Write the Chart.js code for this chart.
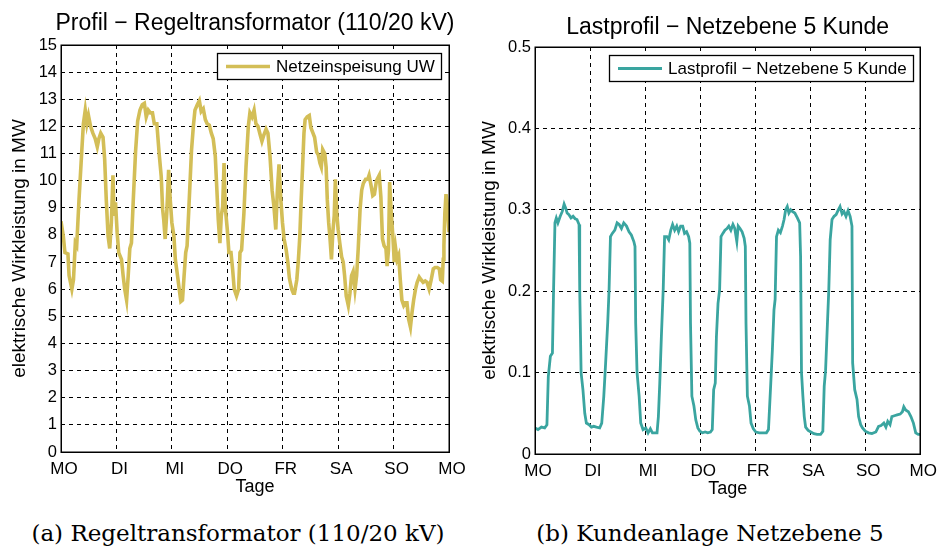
<!DOCTYPE html>
<html>
<head>
<meta charset="utf-8">
<script src="https://cdn.jsdelivr.net/npm/chart.js@4/dist/chart.umd.min.js"></script>
<style>
  body { margin: 0; background: #fff; width: 941px; height: 547px; position: relative; overflow: hidden; }
  canvas { position: absolute; top: 0; }
  #trafo { left: 0; }
  #kunde { left: 470px; }
  .cap {
    position: absolute; top: 522px; white-space: nowrap;
    font-family: "DejaVu Serif", serif; font-size: 23px; line-height: 23px;
    transform: translateX(-50%); color: #000;
  }
</style>
</head>
<body>
<canvas id="trafo" width="470" height="505"></canvas>
<canvas id="kunde" width="471" height="507"></canvas>
<div class="cap" style="left:238px">(a) Regeltransformator (110/20 kV)</div>
<div class="cap" style="left:710px">(b) Kundeanlage Netzebene 5</div>

<script>
// Wochentage an den x-Ticks (alle 24 h)
const dayLabels = ['MO', 'DI', 'MI', 'DO', 'FR', 'SA', 'SO', 'MO'];

// Profil Regeltransformator: Stunde der Woche / MW
const trafoHours = [0, 1, 1.7, 3, 3.5, 4.7, 5.4, 6.2, 6.8, 7.8, 9, 9.7, 10.5, 11.2, 11.9, 12.8, 13.8, 14.8, 15.7, 16.4,
  17.2, 18.2, 18.9, 19.6, 20.4, 21.1, 21.8, 22.5, 23, 23.6, 24.3, 25, 26.2, 26.9, 27.6, 28.4, 29.1, 29.8, 30.5, 31.3,
  32.3, 33.2, 34.2, 35.2, 36.1, 36.9, 37.8, 38.7, 39.6, 40.4, 41.5, 42.5, 43.4, 44, 44.5, 45.1, 45.8, 46.6, 47.3, 48,
  48.9, 49.5, 50.6, 51.2, 51.9, 52.6, 53.3, 54, 54.6, 55.4, 56.5, 57.3, 58, 59, 59.9, 60.7, 61.6, 62.5, 63.3, 64.2,
  65.1, 65.9, 66.8, 67.5, 68.1, 68.8, 69.4, 70, 70.6, 71.1, 72, 72.7, 73.6, 74.3, 75, 76, 76.9, 77.5, 78.2, 79.2,
  80.1, 81.1, 81.8, 82.7, 83.6, 84.4, 85.3, 86.2, 87, 87.9, 88.8, 89.6, 90.5, 91.4, 92.2, 93, 93.7, 94.4, 95.1, 95.9,
  96.6, 97.5, 98.2, 98.9, 99.9, 100.6, 101.1, 102.1, 102.8, 103.4, 104, 104.6, 105.2, 105.7, 106.6, 107.5, 108.2, 108.9, 109.8, 110.7,
  111.4, 112.1, 112.7, 113.3, 114.2, 114.8, 115.3, 115.9, 116.5, 117.1, 117.7, 118.3, 118.8, 119.4, 120, 120.7, 121.5, 122.2, 122.8, 123.5,
  124.4, 125.1, 125.8, 126.5, 127.3, 128, 128.7, 129.5, 130.2, 130.9, 131.9, 132.8, 133.4, 134.3, 135, 135.7, 136.6, 137.8, 138.5, 139.2,
  139.9, 140.7, 141.2, 141.8, 142.3, 143, 143.7, 144.3, 144.9, 145.5, 146.2, 146.9, 147.6, 148.4, 149.1, 149.8, 150.5, 151.3, 152, 152.7,
  153.5, 154.2, 155.1, 155.9, 156.8, 157.7, 158.5, 159.4, 160.3, 161.2, 162, 162.9, 163.8, 164.4, 165.1, 165.5, 165.8, 166.2, 166.7, 167.3, 168];
const trafoMW = [8.5, 7.95, 7.35, 7.3, 6.5, 6.0, 6.35, 7.7, 7.6, 9.3, 11.1, 12.1, 12.6, 12.1, 12.4, 12.0, 11.75, 11.55, 11.25, 11.55,
  11.75, 11.6, 10.8, 9.3, 7.95, 7.5, 8.45, 10.2, 8.7, 9.2, 8.1, 7.35, 7.1, 6.5, 6.0, 5.6, 6.5, 7.5, 7.7, 9.3,
  11.1, 12.2, 12.6, 12.8, 12.85, 12.35, 12.6, 12.5, 12.5, 12.1, 12.1, 11.0, 10.15, 8.95, 8.55, 7.85, 8.8, 10.4, 9.3, 8.45,
  7.95, 7.1, 6.4, 6.0, 5.55, 5.6, 6.5, 7.35, 7.6, 9.05, 11.1, 12.0, 12.6, 12.8, 12.95, 12.55, 12.65, 12.25, 12.1, 12.05,
  11.75, 11.55, 10.9, 9.65, 8.55, 7.7, 8.7, 9.05, 10.65, 9.05, 8.2, 7.35, 7.35, 6.75, 6.0, 5.75, 6.0, 7.35, 7.45, 8.8,
  10.5, 12.0, 12.5, 12.35, 12.6, 12.1, 12.0, 11.7, 11.45, 11.7, 11.9, 11.75, 10.9, 9.65, 9.05, 8.2, 9.65, 10.6, 9.4, 8.45,
  7.85, 7.45, 7.0, 6.4, 6.0, 5.85, 5.85, 6.35, 7.1, 7.95, 9.3, 10.5, 11.75, 12.25, 12.35, 12.4, 11.95, 11.8, 11.6, 11.05,
  10.95, 10.65, 10.5, 11.15, 11.0, 10.5, 9.3, 8.45, 7.85, 7.1, 8.1, 8.7, 10.05, 8.8, 8.2, 7.7, 7.2, 7.0, 6.5, 5.75,
  5.4, 5.85, 6.5, 6.65, 6.0, 6.5, 7.5, 8.95, 9.65, 9.9, 10.05, 10.05, 10.2, 9.8, 9.45, 9.5, 10.0, 10.2, 9.4, 7.85,
  7.6, 7.5, 6.85, 7.45, 9.95, 8.8, 7.95, 7.0, 7.5, 7.1, 7.25, 6.35, 5.6, 5.4, 5.5, 5.5, 4.9, 4.6, 5.15, 5.6,
  6.0, 6.25, 6.45, 6.35, 6.25, 6.3, 6.25, 6.0, 6.35, 6.75, 6.8, 6.8, 6.75, 6.35, 6.3, 7.1, 7.6, 8.8, 9.5, 9.1, 8.1];

// Lastprofil Kunde Netzebene 5: Stunde der Woche / MW
const kundeHours = [0, 1.3, 2.8, 4.2, 5.2, 5.8, 6.7, 7.6, 8.1, 8.7, 9.3, 10, 11, 11.9, 12.7, 13.4, 14, 14.8, 15.7, 16.6,
  17.5, 18.3, 19.2, 19.5, 20.1, 20.9, 21.7, 22.4, 23.6, 24.6, 25.6, 26.8, 28.2, 29.1, 30, 30.8, 31.7, 32.3, 32.9, 33.7,
  34.8, 35.8, 36.7, 37.7, 38.7, 39.9, 41, 42, 43.1, 43.6, 43.9, 44.5, 45.4, 46.1, 47.1, 48.3, 49.3, 50.3, 51.2, 52.2,
  53.2, 53.8, 54.4, 55.1, 55.9, 56.5, 57.5, 58.3, 59.2, 60, 60.9, 61.8, 62.6, 63.5, 64.4, 65.2, 66.1, 67, 67.5, 67.8,
  68.4, 69.3, 70.1, 71, 71.9, 73, 74.2, 75.3, 76.5, 77.3, 77.9, 78.6, 79.1, 79.8, 80.5, 81.1, 81.9, 82.8, 83.7, 84.5,
  85.4, 86.3, 87.1, 88, 88.6, 89.4, 90.3, 91.2, 91.7, 92, 92.6, 93.5, 94.2, 95.2, 96.3, 97.8, 99.2, 100.9, 101.8, 102.8,
  103.5, 104.2, 104.7, 105.3, 106.1, 107, 107.9, 108.6, 109.3, 110, 110.7, 111.5, 112.2, 113.3, 114.4, 115.4, 115.8, 116.2, 116.8, 117.4,
  118, 119.1, 120.3, 121.6, 123, 124.5, 125.5, 126.1, 126.7, 127.4, 128.1, 128.7, 129.5, 130.4, 131.3, 132.1, 133, 133.9, 134.7, 135.6,
  136.5, 137.4, 138.2, 138.5, 139.4, 140.4, 141.1, 142, 142.8, 144, 145.4, 146.9, 148.6, 149.8, 150.9, 152.1, 153, 153.8, 154.8, 155.6,
  156.7, 157.9, 159.2, 160.2, 160.8, 161.6, 162.8, 163.9, 165, 166, 167.1, 168];
const kundeMW = [0.032, 0.030, 0.033, 0.032, 0.036, 0.095, 0.12, 0.124, 0.202, 0.284, 0.29, 0.284, 0.292, 0.298, 0.307, 0.302, 0.296, 0.294, 0.29, 0.292,
  0.289, 0.288, 0.282, 0.202, 0.1, 0.079, 0.05, 0.038, 0.036, 0.033, 0.034, 0.033, 0.032, 0.038, 0.071, 0.112, 0.161, 0.202, 0.267, 0.271,
  0.275, 0.284, 0.282, 0.277, 0.284, 0.28, 0.273, 0.269, 0.261, 0.255, 0.161, 0.1, 0.071, 0.038, 0.030, 0.032, 0.026, 0.031, 0.026, 0.026,
  0.026, 0.046, 0.087, 0.144, 0.202, 0.267, 0.267, 0.263, 0.275, 0.282, 0.275, 0.28, 0.273, 0.28, 0.28, 0.271, 0.273, 0.267, 0.259, 0.161,
  0.071, 0.059, 0.042, 0.032, 0.028, 0.026, 0.027, 0.026, 0.027, 0.030, 0.079, 0.087, 0.144, 0.185, 0.202, 0.267, 0.271, 0.275, 0.277, 0.28,
  0.275, 0.282, 0.277, 0.261, 0.28, 0.277, 0.273, 0.265, 0.255, 0.161, 0.071, 0.059, 0.038, 0.031, 0.027, 0.026, 0.026, 0.026, 0.03, 0.087,
  0.128, 0.177, 0.19, 0.267, 0.275, 0.272, 0.28, 0.288, 0.3, 0.304, 0.296, 0.3, 0.298, 0.296, 0.29, 0.284, 0.243, 0.1, 0.071, 0.046,
  0.033, 0.029, 0.027, 0.025, 0.024, 0.024, 0.028, 0.083, 0.103, 0.153, 0.202, 0.263, 0.288, 0.292, 0.294, 0.299, 0.304, 0.295, 0.298, 0.292,
  0.299, 0.292, 0.28, 0.112, 0.079, 0.067, 0.046, 0.036, 0.032, 0.028, 0.026, 0.025, 0.027, 0.034, 0.035, 0.038, 0.033, 0.04, 0.036, 0.046,
  0.047, 0.048, 0.049, 0.052, 0.058, 0.054, 0.052, 0.046, 0.038, 0.026, 0.024, 0.024];

Chart.defaults.font.family = '"Liberation Sans", Arial, sans-serif';
Chart.defaults.color = '#000';

// schwarzer Rahmen um die Achsenfläche (box on)
const frame = {
  id: 'frame',
  afterDatasetsDraw(chart) {
    const { ctx, chartArea: a } = chart;
    ctx.save();
    ctx.strokeStyle = '#000';
    ctx.lineWidth = 1.5;
    ctx.strokeRect(Math.round(a.left) + 0.25, Math.round(a.top) + 0.25, Math.round(a.right - a.left), Math.round(a.bottom - a.top));
    ctx.restore();
  }
};

// Titel mittig über der Achsenfläche
const axesTitle = {
  id: 'axesTitle',
  afterDraw(chart, args, opts) {
    const { ctx, chartArea } = chart;
    ctx.save();
    ctx.font = '23px "Liberation Sans", Arial, sans-serif';
    ctx.fillStyle = '#000';
    ctx.textAlign = 'center';
    ctx.textBaseline = 'alphabetic';
    ctx.fillText(opts.text, (chartArea.left + chartArea.right) / 2, opts.baseline);
    ctx.restore();
  }
};

// Legende mit Kasten oben rechts in der Achsenfläche
const boxLegend = {
  id: 'boxLegend',
  afterDraw(chart, args, opts) {
    const { ctx, chartArea } = chart;
    const ds = chart.data.datasets[0];
    ctx.save();
    ctx.font = '17px "Liberation Sans", Arial, sans-serif';
    const tw = ctx.measureText(ds.label).width;
    const w = Math.round(9 + 44 + 6 + tw + 6), h = 26;
    const x = Math.round(chartArea.right - opts.right - w), y = Math.round(chartArea.top + opts.top);
    ctx.fillStyle = '#fff';
    ctx.fillRect(x, y, w, h);
    ctx.strokeStyle = '#000';
    ctx.lineWidth = 1.3;
    ctx.strokeRect(x + 0.5, y + 0.5, w, h);
    ctx.strokeStyle = ds.borderColor;
    ctx.lineWidth = ds.borderWidth;
    ctx.beginPath();
    ctx.moveTo(x + 9, y + h / 2 + 0.5);
    ctx.lineTo(x + 53, y + h / 2 + 0.5);
    ctx.stroke();
    ctx.fillStyle = '#000';
    ctx.textBaseline = 'middle';
    ctx.fillText(ds.label, x + 59, y + h / 2 + 1.5);
    ctx.restore();
  }
};

function buildChart(id, o) {
  return new Chart(document.getElementById(id), {
    type: 'line',
    data: {
      datasets: [{
        label: o.label,
        data: o.hours.map((h, i) => ({ x: h, y: o.values[i] })),
        borderColor: o.color,
        borderWidth: o.lineWidth,
        pointRadius: 0,
        tension: 0,
        fill: false
      }]
    },
    options: {
      responsive: false,
      animation: false,
      events: [],
      layout: { padding: { left: 0, right: o.padRight, top: o.padTop, bottom: 0 } },
      plugins: {
        legend: { display: false },
        tooltip: { enabled: false },
        title: { display: false },
        axesTitle: { text: o.title, baseline: o.titleBaseline },
        boxLegend: { right: o.legendRight, top: 8 }
      },
      scales: {
        x: {
          type: 'linear',
          min: 0,
          max: 168,
          afterFit: s => { s.height = o.xHeight; },
          ticks: {
            stepSize: 24,
            autoSkip: false,
            maxRotation: 0,
            padding: 7,
            labelOffset: 3,
            color: '#000',
            font: { size: 17 },
            callback: v => dayLabels[v / 24]
          },
          grid: { color: '#000', lineWidth: 1, drawTicks: false },
          border: { display: false, dash: [4, 4] },
          title: {
            display: true,
            text: 'Tage',
            color: '#000',
            font: { size: 18 },
            padding: { top: 0, bottom: o.xTitleBottom }
          }
        },
        y: {
          min: 0,
          max: o.yMax,
          afterFit: s => { s.width = o.yWidth; },
          ticks: { stepSize: o.yStep, padding: 4, color: '#000', font: { size: 16.5 } },
          grid: { color: '#000', lineWidth: 1, drawTicks: false },
          border: { display: false, dash: [4, 4] },
          title: {
            display: true,
            text: 'elektrische Wirkleistung in MW',
            color: '#000',
            font: { size: 19 },
            padding: { top: 8, bottom: 0 }
          }
        }
      }
    },
    plugins: [frame, axesTitle, boxLegend]
  });
}

buildChart('trafo', {
  label: 'Netzeinspeisung UW',
  title: 'Profil \u2212 Regeltransformator (110/20 kV)',
  hours: trafoHours,
  values: trafoMW,
  color: '#D3BE57',
  lineWidth: 3.6,
  yMax: 15,
  yStep: 1,
  yWidth: 61,
  xHeight: 53,
  padRight: 21,
  padTop: 45,
  titleBaseline: 30,
  xTitleBottom: 7,
  legendRight: 8
});

buildChart('kunde', {
  label: 'Lastprofil \u2212 Netzebene 5 Kunde',
  title: 'Lastprofil \u2212 Netzebene 5 Kunde',
  hours: kundeHours,
  values: kundeMW,
  color: '#3AA5A0',
  lineWidth: 2.8,
  yMax: 0.5,
  yStep: 0.1,
  yWidth: 65,
  xHeight: 53,
  padRight: 19,
  padTop: 47,
  titleBaseline: 33.5,
  xTitleBottom: 7.5,
  legendRight: 7
});
</script>
</body>
</html>
